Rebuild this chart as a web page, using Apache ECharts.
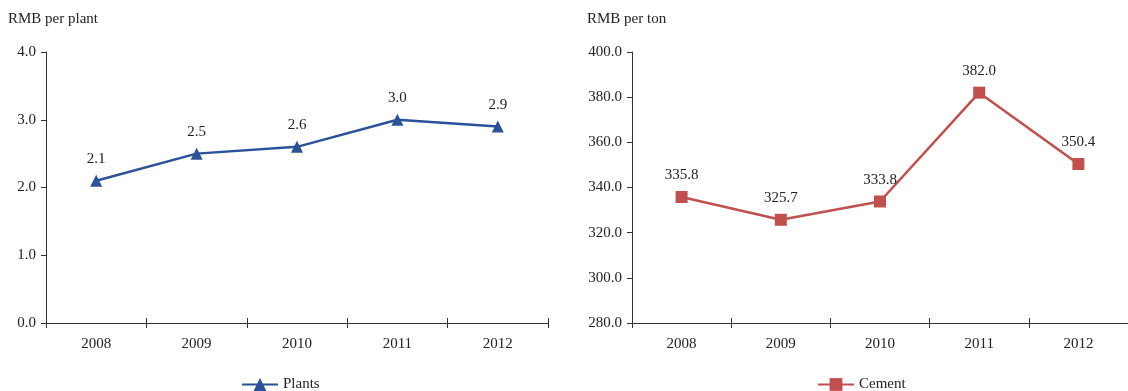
<!DOCTYPE html>
<html>
<head>
<meta charset="utf-8">
<script src="https://cdn.jsdelivr.net/npm/echarts@6/dist/echarts.min.js"></script>
<style>html,body{margin:0;padding:0;background:#fff;}#c{width:1128px;height:391px;}</style>
</head>
<body>
<div id="c"></div>
<script>
var years = ['2008', '2009', '2010', '2011', '2012'];
var plants = [2.1, 2.5, 2.6, 3.0, 2.9];
var cement = [335.8, 325.7, 333.8, 382.0, 350.4];
var leftTicks = [0, 1, 2, 3, 4];
var rightTicks = [280, 300, 320, 340, 360, 380, 400];

var font = '"Liberation Serif", "DejaVu Serif", serif';
var fs = 15;
var txt = '#222';
var axisCol = '#333';
var blue = '#2A5298';
var red = '#C0504D';

function xAx(gi, inside) {
  return {
    type: 'category', gridIndex: gi, data: years, boundaryGap: true, position: 'bottom',
    axisLine: {show: !inside, lineStyle: {color: axisCol, width: 1}},
    axisTick: {show: true, inside: inside, length: 5, lineStyle: {color: axisCol}},
    axisLabel: {show: !inside, color: txt, fontFamily: font, fontSize: fs, margin: 14},
    splitLine: {show: false}
  };
}
function yAx(gi, mn, mx, iv) {
  return {
    type: 'value', gridIndex: gi, min: mn, max: mx, interval: iv,
    axisLine: {show: true, lineStyle: {color: axisCol, width: 1}},
    axisTick: {show: true, length: 5, lineStyle: {color: axisCol}},
    axisLabel: {color: txt, fontFamily: font, fontSize: fs, margin: 10,
      formatter: function (v) { return v.toFixed(1); }},
    splitLine: {show: false}
  };
}

var chart = echarts.init(document.getElementById('c'), null, {renderer: 'canvas'});
chart.setOption({
  animation: false,
  backgroundColor: '#fff',
  title: [
    {text: 'RMB per plant', left: 3, top: 7, textStyle: {fontFamily: font, fontSize: fs, fontWeight: 'normal', color: txt}},
    {text: 'RMB per ton', left: 582, top: 7, textStyle: {fontFamily: font, fontSize: fs, fontWeight: 'normal', color: txt}}
  ],
  grid: [
    {left: 46, top: 52, width: 502, height: 271, containLabel: false},
    {left: 632, top: 52, width: 497, height: 271, containLabel: false}
  ],
  legend: [
    {data: ['Plants'], left: 236, top: 372, itemWidth: 36, itemHeight: 16, itemGap: 10,
      textStyle: {fontFamily: font, fontSize: fs, color: txt}},
    {data: ['Cement'], left: 812, top: 372, itemWidth: 36, itemHeight: 16, itemGap: 10,
      textStyle: {fontFamily: font, fontSize: fs, color: txt}}
  ],
  xAxis: [xAx(0, false), xAx(1, false), xAx(0, true), xAx(1, true)],
  yAxis: [yAx(0, 0, 4, 1), yAx(1, 280, 400, 20)],
  series: [
    {name: 'Plants', type: 'line', xAxisIndex: 0, yAxisIndex: 0, data: plants,
      symbol: 'triangle', symbolSize: 12, color: blue,
      lineStyle: {color: blue, width: 2.5}, itemStyle: {color: blue},
      label: {show: true, position: 'top', distance: 8, color: txt, fontFamily: font, fontSize: fs,
        formatter: function (p) { return p.value.toFixed(1); }}},
    {name: 'Cement', type: 'line', xAxisIndex: 1, yAxisIndex: 1, data: cement,
      symbol: 'rect', symbolSize: 12, color: red,
      lineStyle: {color: red, width: 2.5}, itemStyle: {color: red},
      label: {show: true, position: 'top', distance: 8, color: txt, fontFamily: font, fontSize: fs,
        formatter: function (p) { return p.value.toFixed(1); }}}
  ]
});
</script>
</body>
</html>
